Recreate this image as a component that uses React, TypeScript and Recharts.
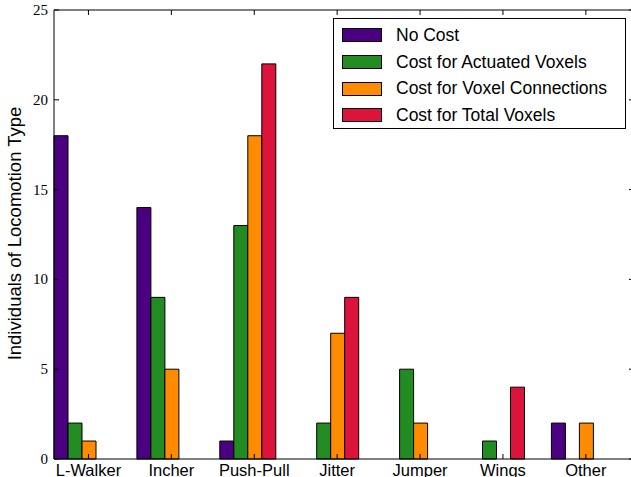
import React from 'react'
import { BarChart, Bar, XAxis, YAxis, Legend, ReferenceLine } from 'recharts'

const categories = ['L-Walker', 'Incher', 'Push-Pull', 'Jitter', 'Jumper', 'Wings', 'Other']
const noCost = [18, 14, 1, 0, 0, 0, 2]
const actuatedCost = [2, 9, 13, 2, 5, 1, 0]
const connectionCost = [1, 5, 18, 7, 2, 0, 2]
const totalCost = [0, 0, 22, 9, 0, 4, 0]
const yTicks = [0, 5, 10, 15, 20, 25]

const SERIES = [
  { key: 'noCost', name: 'No Cost', color: '#4B0082' },
  { key: 'actuated', name: 'Cost for Actuated Voxels', color: '#228B22' },
  { key: 'connections', name: 'Cost for Voxel Connections', color: '#FF8C00' },
  { key: 'total', name: 'Cost for Total Voxels', color: '#DC143C' },
]

const data = categories.map((name, i) => ({
  name,
  noCost: noCost[i],
  actuated: actuatedCost[i],
  connections: connectionCost[i],
  total: totalCost[i],
}))

// plot box in page pixels (right spine sits just past the visible edge)
const PLOT = { left: 54, right: 634, top: 10, bottom: 459 }
const SANS = '"Liberation Sans", Arial, sans-serif'
const SERIF = '"Liberation Serif", "Times New Roman", serif'

const XTick = ({ x, payload }: any) => {
  const cx = x + 6
  return (
    <g>
      <line x1={cx} x2={cx} y1={PLOT.bottom} y2={PLOT.bottom - 5} stroke="#000" />
      <line x1={cx} x2={cx} y1={PLOT.top} y2={PLOT.top + 5} stroke="#000" />
      <text x={cx} y={475.5} textAnchor="middle" fontFamily={SANS} fontSize={16.5} fill="#000">
        {payload.value}
      </text>
    </g>
  )
}

const YTick = ({ y, payload }: any) => (
  <g>
    <line x1={PLOT.left} x2={PLOT.left + 5} y1={y} y2={y} stroke="#000" />
    <line x1={PLOT.right - 5} x2={PLOT.right} y1={y} y2={y} stroke="#000" />
    <text x={48} y={y} dy={5} textAnchor="end" fontFamily={SERIF} fontSize={15} fill="#000">
      {payload.value}
    </text>
  </g>
)

const YLabel = () => (
  <text
    x={21}
    y={233.5}
    transform="rotate(-90, 21, 233.5)"
    textAnchor="middle"
    fontFamily={SANS}
    fontSize={18.5}
    fill="#000"
  >
    Individuals of Locomotion Type
  </text>
)

// legend in series order, not the library's default sort
const renderLegend = () => (
  <div
    style={{
      border: '1px solid #000',
      background: '#fff',
      boxSizing: 'border-box',
      width: 293,
      height: 111,
      padding: '3px 0 0 8px',
      fontFamily: SANS,
      fontSize: 17.5,
    }}
  >
    {SERIES.map((s) => (
      <div key={s.key} style={{ display: 'flex', alignItems: 'center', height: 26.7 }}>
        <span
          style={{
            display: 'inline-block',
            width: 38,
            height: 12,
            background: s.color,
            border: '1px solid #000',
            marginRight: 14,
            flexShrink: 0,
          }}
        />
        <span style={{ whiteSpace: 'nowrap' }}>{s.name}</span>
      </div>
    ))}
  </div>
)

export default function App() {
  return (
    <div
      style={{
        position: 'absolute',
        left: 0,
        top: 0,
        width: 631,
        height: 477,
        overflow: 'hidden',
        background: '#fff',
      }}
    >
      <BarChart
        width={640}
        height={477}
        data={data}
        margin={{ top: PLOT.top, right: 640 - PLOT.right, bottom: 477 - PLOT.bottom - 1, left: PLOT.left - 1 }}
        barGap={0}
        barSize={14}
      >
        <XAxis
          dataKey="name"
          height={1}
          interval={0}
          padding={{ left: -13, right: 12.7 }}
          axisLine={{ stroke: '#000' }}
          tickLine={false}
          tick={<XTick />}
        />
        <YAxis
          width={1}
          domain={[0, 25]}
          ticks={yTicks}
          interval={0}
          axisLine={{ stroke: '#000' }}
          tickLine={false}
          tick={<YTick />}
          label={<YLabel />}
        />
        <ReferenceLine y={25} stroke="#000" strokeOpacity={1} ifOverflow="visible" />
        {SERIES.map((s) => (
          <Bar
            key={s.key}
            dataKey={s.key}
            name={s.name}
            fill={s.color}
            stroke="#000"
            strokeWidth={1}
            isAnimationActive={false}
          />
        ))}
        <Legend
          layout="vertical"
          align="center"
          verticalAlign="middle"
          wrapperStyle={{ top: 18, left: 333, width: 293, height: 111 }}
          content={renderLegend}
        />
      </BarChart>
    </div>
  )
}
